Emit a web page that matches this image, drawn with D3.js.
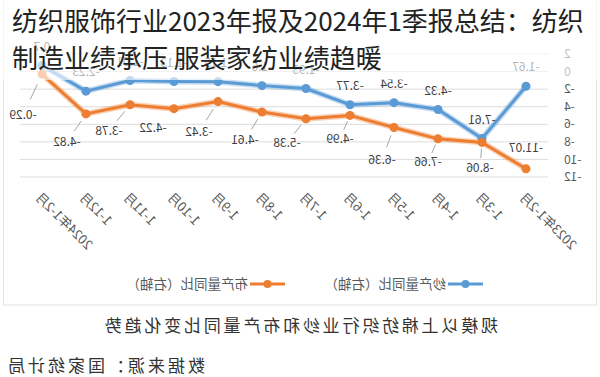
<!DOCTYPE html>
<html>
<head>
<meta charset="utf-8">
<script src="https://cdn.jsdelivr.net/npm/d3@7"></script>
<style>
  body { margin: 0; background: #fff; }
  svg { display: block; font-family: "Noto Sans CJK SC", "Noto Sans", sans-serif; }
</style>
</head>
<body>
<div id="chart"></div>
<script>
// categories, left to right in the un-mirrored chart
const categories = ["2023年1-2月", "1-3月", "1-4月", "1-5月", "1-6月", "1-7月", "1-8月", "1-9月", "1-10月", "1-11月", "1-12月", "2024年1-2月"];
// 纱产量同比 (%)
const yarnYoY = [-1.67, -7.61, -4.32, -3.54, -3.77, -1.93, -1.6, -1.15, -1.13, -1.01, -2.23, 0.7];
// 布产量同比 (%)
const clothYoY = [-11.07, -8.06, -7.66, -6.36, -4.99, -5.38, -4.61, -3.42, -4.22, -3.78, -4.82, -0.29];
const yTicks = [2, 0, -2, -4, -6, -8, -10, -12];
const legendNames = ["纱产量同比（右轴）", "布产量同比（右轴）"];
const titleLines = ["纺织服饰行业2023年报及2024年1季报总结：纺织", "制造业绩承压 服装家纺业绩趋暖"];
const caption = "规模以上棉纺织行业纱和布产量同比变化趋势";
const source = "数据来源：国家统计局";

// label placement for the cloth series (dx, dy from the point)
const clothLabelOffsets = [[0, -21], [2, 25], [10, 23], [12, 32], [10, 23], [19, 24], [17, 28], [19, 30], [21, 19], [21, 26], [19, 28], [19, 41]];

const width = 600, height = 377;
const blue = "#5b9bd5", orange = "#ed7d31";

const svg = d3.select("#chart").append("svg")
    .attr("width", width)
    .attr("height", height);

// the whole picture is a mirrored image, so draw the chart normally and flip it
const g = svg.append("g")
    .attr("transform", `translate(${width},0) scale(-1,1)`);

// frame
g.append("rect")
    .attr("x", 3.5).attr("y", -5)
    .attr("width", 593).attr("height", 310)
    .attr("fill", "none")
    .attr("stroke", "#e3e3e3");

const x = d3.scaleBand().domain(categories).range([52, 580]);
const y = d3.scaleLinear().domain([-12, 2]).range([177, 54]);
const cx = d => x(d) + x.bandwidth() / 2;

// gridlines
g.selectAll(".grid")
    .data(yTicks)
    .enter().append("line")
    .attr("x1", 52).attr("x2", 580)
    .attr("y1", d => y(d)).attr("y2", d => y(d))
    .attr("stroke", "#dcdcdc")
    .attr("stroke-width", 1);

// y axis labels
g.selectAll(".ytick")
    .data(yTicks)
    .enter().append("text")
    .attr("x", 36)
    .attr("y", d => y(d))
    .attr("dy", "0.35em")
    .attr("text-anchor", "end")
    .attr("font-size", 12)
    .attr("fill", "#595959")
    .text(d => d);

// x axis labels
g.selectAll(".xtick")
    .data(categories)
    .enter().append("text")
    .attr("transform", d => `translate(${cx(d) + 4},${195}) rotate(-45)`)
    .attr("text-anchor", "end")
    .attr("dy", "0.35em")
    .attr("font-size", 13)
    .attr("fill", "#595959")
    .text(d => d);

const line = d3.line()
    .x((d, i) => cx(categories[i]))
    .y(d => y(d));

function drawSeries(values, color) {
    g.append("path")
        .datum(values)
        .attr("d", line)
        .attr("fill", "none")
        .attr("stroke", color)
        .attr("stroke-opacity", 0.35)
        .attr("stroke-width", 6);
    g.append("path")
        .datum(values)
        .attr("d", line)
        .attr("fill", "none")
        .attr("stroke", color)
        .attr("stroke-width", 3);
    g.selectAll(null)
        .data(values)
        .enter().append("circle")
        .attr("cx", (d, i) => cx(categories[i]))
        .attr("cy", d => y(d))
        .attr("r", 4.5)
        .attr("fill", color);
}

drawSeries(yarnYoY, blue);
drawSeries(clothYoY, orange);

// yarn labels, above the points
g.selectAll(".ylab")
    .data(yarnYoY)
    .enter().append("text")
    .attr("x", (d, i) => cx(categories[i]))
    .attr("y", d => y(d) - 19)
    .attr("dy", "0.35em")
    .attr("text-anchor", "middle")
    .attr("font-size", 12)
    .attr("fill", "#404040")
    .text(d => d);

// cloth labels with leader lines
clothYoY.forEach((v, i) => {
    const px = cx(categories[i]), py = y(v);
    const [dx, dy] = clothLabelOffsets[i];
    if (dy > 22) {
        g.append("line")
            .attr("x1", px + dx * 0.25).attr("y1", py + dy * 0.25)
            .attr("x2", px + dx * 0.62).attr("y2", py + dy * 0.62)
            .attr("stroke", "#a6a6a6")
            .attr("stroke-width", 1);
    }
    g.append("text")
        .attr("x", px + dx)
        .attr("y", py + dy)
        .attr("dy", "0.35em")
        .attr("text-anchor", "middle")
        .attr("font-size", 12)
        .attr("fill", "#404040")
        .text(v);
});

// legend
const legend = g.append("g").attr("transform", "translate(0,284)");
[[blue, 117], [orange, 315]].forEach(([color, lx], i) => {
    legend.append("line")
        .attr("x1", lx).attr("x2", lx + 35)
        .attr("stroke", color).attr("stroke-width", 3);
    legend.append("circle")
        .attr("cx", lx + 17.5).attr("r", 4)
        .attr("fill", color);
    legend.append("text")
        .attr("x", lx + 37)
        .attr("dy", "0.35em")
        .attr("font-size", 13.5)
        .attr("fill", "#595959")
        .text(legendNames[i]);
});

// caption and source
g.append("text")
    .attr("x", 300).attr("y", 326)
    .attr("dy", "0.35em")
    .attr("text-anchor", "middle")
    .attr("font-size", 17)
    .attr("letter-spacing", 2.8)
    .attr("fill", "#333")
    .text(caption);

g.append("text")
    .attr("x", 595).attr("y", 366)
    .attr("dy", "0.35em")
    .attr("text-anchor", "end")
    .attr("font-size", 17)
    .attr("letter-spacing", 3)
    .attr("fill", "#333")
    .text(source);

// title overlay (not mirrored)
svg.append("rect")
    .attr("x", 0).attr("y", 0)
    .attr("width", width).attr("height", 80)
    .attr("fill", "#fff")
    .attr("fill-opacity", 0.62);

svg.selectAll(".title")
    .data(titleLines)
    .enter().append("text")
    .attr("x", 12)
    .attr("y", (d, i) => 22 + i * 37)
    .attr("dy", "0.35em")
    .attr("font-size", 26)
    .attr("fill", "#222")
    .text(d => d);
</script>
</body>
</html>
